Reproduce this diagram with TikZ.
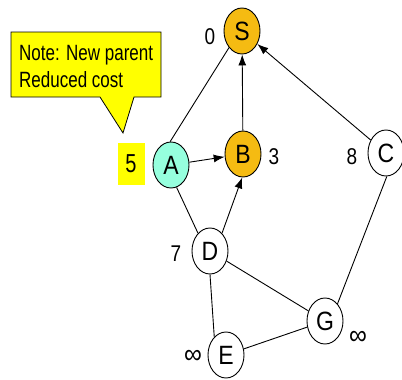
\documentclass[tikz,border=0pt]{standalone}
\usepackage{fontspec}
\usepackage{graphicx}
\setmainfont{Liberation Sans}
\usetikzlibrary{shapes.geometric,arrows.meta}
\definecolor{visited}{RGB}{245,187,18}
\definecolor{current}{RGB}{150,255,222}
\definecolor{notebg}{RGB}{255,255,0}
% vertically stretched text
\newcommand\tallText[2][1.2]{\scalebox{1}[#1]{#2}}

\begin{document}
\begin{tikzpicture}[x=1pt,y=-1pt,
  vertex/.style={ellipse, draw, line width=0.9pt, fill=white,
    minimum width=36pt, minimum height=46pt, inner sep=0pt,
    font=\fontsize{23}{23}\selectfont},
  cost/.style={inner sep=0pt, font=\fontsize{19}{19}\selectfont},
  infcost/.style={inner sep=0pt, font=\fontsize{25}{25}\selectfont},
  notetext/.style={inner sep=0pt, anchor=base west, font=\fontsize{17}{17}\selectfont},
  edge/.style={line width=0.9pt},
  arc/.style={edge, -{Latex[length=11pt,width=8pt]}}]
\useasboundingbox (0,0) rectangle (402,380);

% callout
\draw[fill=notebg, line width=0.8pt]
  (11,32) -- (161,32) -- (161,97) -- (134,97) -- (123,133) -- (100,97) -- (11,97) -- cycle;
\node[notetext] (note1) at (19,60) {\tallText[1.3]{Note: New parent}};
\node[notetext] (note2) at (19,87) {\tallText[1.3]{Reduced cost}};

% vertices
\node[vertex, fill=visited] (S) at (242,31) {\tallText[1.15]{S}};
\node[vertex, fill=visited] (B) at (243,154) {\tallText[1.15]{B}};
\node[vertex, fill=current] (A) at (171,165) {\tallText[1.15]{A}};
\node[vertex] (C) at (386,153) {\tallText[1.15]{C}};
\node[vertex] (D) at (210,251) {\tallText[1.15]{D}};
\node[vertex] (G) at (325,321) {\tallText[1.15]{G}};
\node[vertex] (E) at (226,355) {\tallText[1.15]{E}};

% cost labels
\node[fill=notebg, minimum width=27pt, minimum height=42pt, inner sep=0pt,
  font=\fontsize{20}{20}\selectfont] (cA) at (131,164) {\tallText[1.3]{5}};
\node[cost] (cS) at (210,37) {\tallText{0}};
\node[cost] (cB) at (274,157) {\tallText{3}};
\node[cost] (cC) at (352,157) {\tallText{8}};
\node[cost] (cD) at (176,254) {\tallText{7}};
\node[infcost] (cE) at (193,357) {\tallText[1.1]{∞}};
\node[infcost] (cG) at (358,338) {\tallText[1.1]{∞}};

% edges
\draw[edge] (A.92) -- (S.232);
\draw[edge] (A.284) -- (D.124);
\draw[edge] (C.272) -- (G.54);
\draw[edge] (D) -- (G);
\draw[edge] (D.270) -- (E.123);
\draw[edge] (E) -- (G);
\draw[arc] (A) -- (B);
\draw[arc] (D.56) -- (B.268);
\draw[arc] (B) -- (S);
\draw[arc] (C) -- (S);
\end{tikzpicture}
\end{document}
